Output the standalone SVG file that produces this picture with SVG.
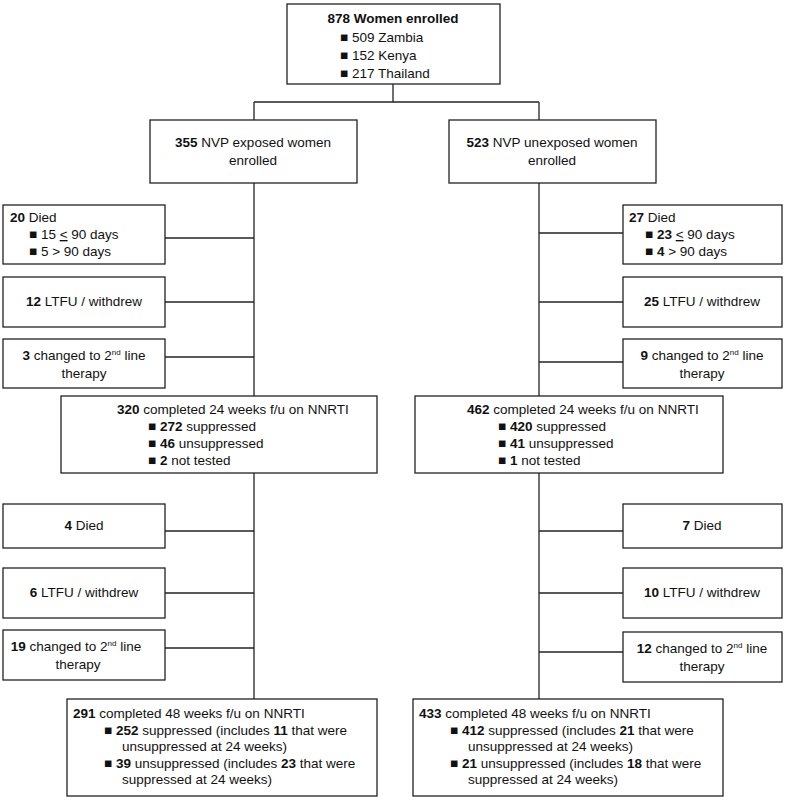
<svg xmlns="http://www.w3.org/2000/svg" width="787" height="800" viewBox="0 0 787 800">
<style>
rect{fill:#fff;stroke:#222;stroke-width:1.3}
text{font-family:"Liberation Sans",Arial,sans-serif;font-size:13.5px;fill:#111}
.b{font-weight:bold}
.c{text-anchor:middle}
#conn line{stroke:#222;stroke-width:1.3}
</style>
<rect x="0" y="0" width="787" height="800" style="fill:#fff;stroke:none"/>
<g id="conn">
<line x1="393" y1="84" x2="393" y2="102"/>
<line x1="254" y1="102" x2="539" y2="102"/>
<line x1="254" y1="102" x2="254" y2="120"/>
<line x1="539" y1="102" x2="539" y2="120"/>
<line x1="254" y1="183" x2="254" y2="396"/>
<line x1="539" y1="183" x2="539" y2="396"/>
<line x1="165" y1="238" x2="254" y2="238"/>
<line x1="165" y1="302" x2="254" y2="302"/>
<line x1="165" y1="357" x2="254" y2="357"/>
<line x1="539" y1="233" x2="623" y2="233"/>
<line x1="539" y1="302" x2="623" y2="302"/>
<line x1="539" y1="362" x2="623" y2="362"/>
<line x1="254" y1="473" x2="254" y2="699"/>
<line x1="539" y1="473" x2="539" y2="699"/>
<line x1="165" y1="531" x2="254" y2="531"/>
<line x1="165" y1="593" x2="254" y2="593"/>
<line x1="165" y1="648" x2="254" y2="648"/>
<line x1="539" y1="531" x2="623" y2="531"/>
<line x1="539" y1="593" x2="623" y2="593"/>
<line x1="539" y1="652" x2="623" y2="652"/>
</g>
<g id="top"><rect x="287" y="4" width="213" height="80"/>
<text x="393" y="23" class="c b">878 Women enrolled</text>
<text x="340" y="42">■ 509 Zambia</text><text x="340" y="60">■ 152 Kenya</text><text x="340" y="78">■ 217 Thailand</text></g>
<g id="nvp"><rect x="150" y="120" width="207" height="63"/>
<text x="253" y="147" class="c"><tspan class="b">355</tspan> NVP exposed women</text><text x="253" y="165" class="c">enrolled</text></g>
<g id="unexp"><rect x="449" y="120" width="207" height="63"/>
<text x="552" y="147" class="c"><tspan class="b">523</tspan> NVP unexposed women</text><text x="552" y="165" class="c">enrolled</text></g>
<g id="ld1"><rect x="3" y="205" width="162" height="59"/>
<text x="10" y="222"><tspan class="b">20</tspan> Died</text>
<text x="29" y="239">■ 15 <tspan text-decoration="underline">&lt;</tspan> 90 days</text><text x="29" y="256">■ 5 &gt; 90 days</text></g>
<g id="ll1"><rect x="3" y="277" width="162" height="50"/><text x="84" y="306" class="c"><tspan class="b">12</tspan> LTFU / withdrew</text></g>
<g id="lc1"><rect x="3" y="339" width="162" height="49"/><text x="84" y="360" class="c"><tspan class="b">3</tspan> changed to 2<tspan dy="-5" font-size="8">nd</tspan><tspan dy="5"> line</tspan></text><text x="84" y="378" class="c">therapy</text></g>
<g id="rd1"><rect x="623" y="205" width="159" height="59"/>
<text x="629" y="222"><tspan class="b">27</tspan> Died</text>
<text x="645" y="239">■ <tspan class="b">23</tspan> <tspan text-decoration="underline">&lt;</tspan> 90 days</text><text x="645" y="256">■ <tspan class="b">4</tspan>   &gt; 90 days</text></g>
<g id="rl1"><rect x="623" y="277" width="159" height="50"/><text x="702" y="306" class="c"><tspan class="b">25</tspan> LTFU / withdrew</text></g>
<g id="rc1"><rect x="623" y="339" width="159" height="49"/><text x="702" y="360" class="c"><tspan class="b">9</tspan> changed to 2<tspan dy="-5" font-size="8">nd</tspan><tspan dy="5"> line</tspan></text><text x="702" y="378" class="c">therapy</text></g>
<g id="l24"><rect x="61" y="396" width="316" height="77"/>
<text x="117" y="414"><tspan class="b">320</tspan> completed 24 weeks f/u on NNRTI</text>
<text x="148" y="431">■ <tspan class="b">272</tspan> suppressed</text><text x="148" y="448">■ <tspan class="b">46</tspan> unsuppressed</text><text x="148" y="465">■ <tspan class="b">2</tspan> not tested</text></g>
<g id="r24"><rect x="415" y="396" width="308" height="77"/>
<text x="467" y="414"><tspan class="b">462</tspan> completed 24 weeks f/u on NNRTI</text>
<text x="498" y="431">■ <tspan class="b">420</tspan> suppressed</text><text x="498" y="448">■ <tspan class="b">41</tspan> unsuppressed</text><text x="498" y="465">■ <tspan class="b">1</tspan> not tested</text></g>
<g id="ld2"><rect x="3" y="504" width="162" height="44"/><text x="84" y="530" class="c"><tspan class="b">4</tspan> Died</text></g>
<g id="ll2"><rect x="3" y="568" width="162" height="50"/><text x="84" y="597" class="c"><tspan class="b">6</tspan> LTFU / withdrew</text></g>
<g id="lc2"><rect x="3" y="630" width="162" height="50"/><text x="76" y="651" class="c"><tspan class="b">19</tspan> changed to 2<tspan dy="-5" font-size="8">nd</tspan><tspan dy="5"> line</tspan></text><text x="78" y="669" class="c">therapy</text></g>
<g id="rd2"><rect x="623" y="504" width="159" height="44"/><text x="702" y="530" class="c"><tspan class="b">7</tspan> Died</text></g>
<g id="rl2"><rect x="623" y="568" width="159" height="50"/><text x="702" y="597" class="c"><tspan class="b">10</tspan> LTFU / withdrew</text></g>
<g id="rc2"><rect x="623" y="632" width="159" height="50"/><text x="702" y="653" class="c"><tspan class="b">12</tspan> changed to 2<tspan dy="-5" font-size="8">nd</tspan><tspan dy="5"> line</tspan></text><text x="702" y="671" class="c">therapy</text></g>
<g id="l48"><rect x="67" y="699" width="310" height="97"/>
<text x="73" y="718"><tspan class="b">291</tspan> completed 48 weeks f/u on NNRTI</text>
<text x="104" y="735">■ <tspan class="b">252</tspan> suppressed (includes <tspan class="b">11</tspan> that were</text>
<text x="122" y="751">unsuppressed at 24 weeks)</text>
<text x="104" y="768">■ <tspan class="b">39</tspan> unsuppressed (includes <tspan class="b">23</tspan> that were</text>
<text x="122" y="784">suppressed at 24 weeks)</text></g>
<g id="r48"><rect x="413" y="699" width="310" height="97"/>
<text x="419" y="718"><tspan class="b">433</tspan> completed 48 weeks f/u on NNRTI</text>
<text x="450" y="735">■ <tspan class="b">412</tspan> suppressed (includes <tspan class="b">21</tspan> that were</text>
<text x="468" y="751">unsuppressed at 24 weeks)</text>
<text x="450" y="768">■ <tspan class="b">21</tspan> unsuppressed (includes <tspan class="b">18</tspan> that were</text>
<text x="468" y="784">suppressed at 24 weeks)</text></g>
</svg>
